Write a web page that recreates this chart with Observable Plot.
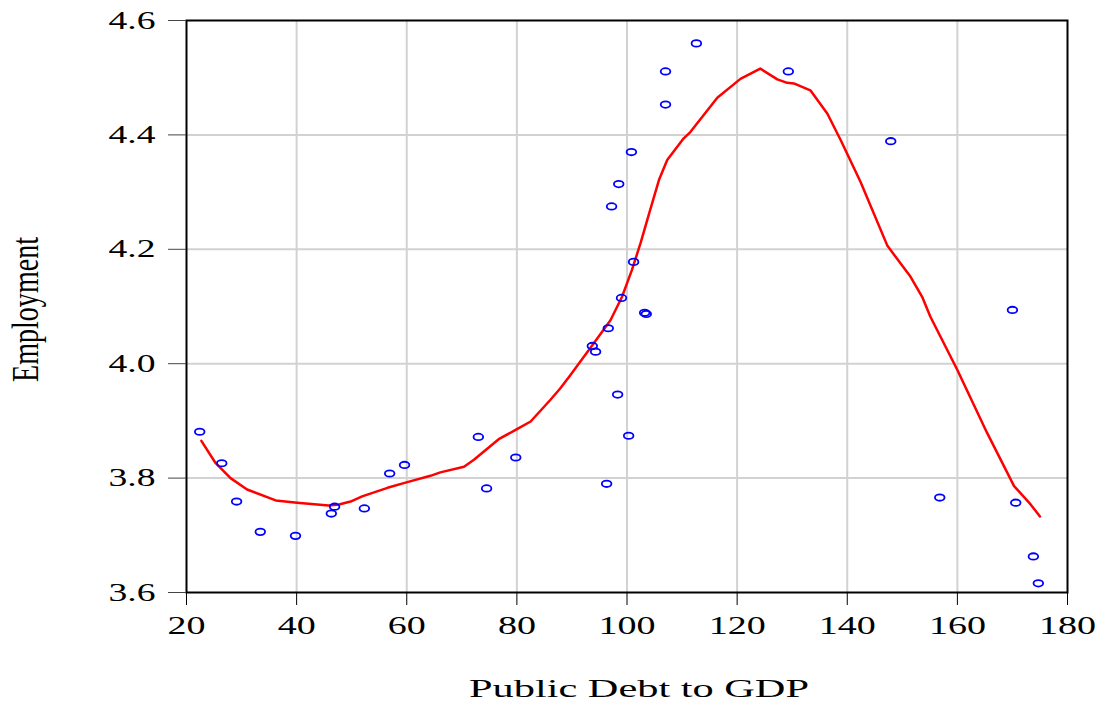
<!DOCTYPE html>
<html>
<head>
<meta charset="utf-8">
<script src="https://cdn.jsdelivr.net/npm/d3@7"></script>
<script src="https://cdn.jsdelivr.net/npm/@observablehq/plot@0.6"></script>
<style>
  html, body { margin: 0; padding: 0; background: #fff; }
</style>
</head>
<body>
<div id="chart"></div>
<script>
// Scatter: public debt to GDP (x) vs employment (y)
const debt = [22.4, 26.4, 29.1, 33.4, 39.8, 46.3, 46.9, 52.3, 56.9, 59.6,
  73.0, 74.5, 79.8, 96.3, 98.3, 100.3, 93.7, 94.3, 96.6, 99.0,
  101.2, 103.2, 103.5, 97.2, 98.5, 100.8, 107.0, 107.0, 112.6, 129.3,
  147.9, 156.8, 170.0, 170.6, 173.8, 174.7];
const employment = [3.881, 3.826, 3.759, 3.706, 3.699, 3.738, 3.750, 3.747, 3.808, 3.823,
  3.872, 3.782, 3.836, 3.790, 3.946, 3.874, 4.031, 4.021, 4.062, 4.115,
  4.178, 4.089, 4.087, 4.275, 4.314, 4.370, 4.453, 4.511, 4.560, 4.511,
  4.389, 3.766, 4.094, 3.757, 3.663, 3.616];

// Fitted (smoothed) curve
const fitX = [22.7, 25.3, 28.0, 31.0, 36.2, 40.1, 45.8, 47.7, 49.8, 51.9,
  56.5, 60.1, 64.3, 66.1, 70.4, 72.2, 76.7, 80.1, 82.5, 86.1,
  87.9, 89.7, 94.0, 97.0, 99.1, 100.9, 102.5, 104.0, 105.8, 107.3, 110.3,
  111.5, 116.4, 120.6, 124.2, 127.3, 129.1, 130.3, 133.3, 136.4, 138.8,
  142.4, 147.3, 151.5, 153.6, 155.1, 160.0, 165.4, 170.3, 173.3, 175.0];
const fitY = [3.865, 3.826, 3.800, 3.780, 3.761, 3.757, 3.752, 3.754, 3.759, 3.768,
  3.783, 3.793, 3.804, 3.810, 3.820, 3.832, 3.868, 3.886, 3.899, 3.937,
  3.957, 3.980, 4.036, 4.076, 4.117, 4.164, 4.212, 4.262, 4.321, 4.356, 4.394,
  4.405, 4.465, 4.498, 4.516, 4.497, 4.491, 4.490, 4.478, 4.437, 4.391,
  4.318, 4.206, 4.152, 4.117, 4.082, 3.989, 3.879, 3.786, 3.754, 3.733];

const xTicks = [20, 40, 60, 80, 100, 120, 140, 160, 180];
const yTicks = [3.6, 3.8, 4.0, 4.2, 4.4, 4.6];
const xLabel = "Public Debt to GDP";
const yLabel = "Employment";

const points = debt.map((d, i) => ({x: d, y: employment[i]}));
const fit = fitX.map((d, i) => ({x: d, y: fitY[i]}));

// Ellipse-shaped symbol (the original markers are wider than tall)
const ellipse = {
  draw(ctx, size) {
    const r = Math.sqrt(size / Math.PI);
    const rx = 1.5 * r, ry = r, k = 0.5523;
    ctx.moveTo(rx, 0);
    ctx.bezierCurveTo(rx, k * ry, k * rx, ry, 0, ry);
    ctx.bezierCurveTo(-k * rx, ry, -rx, k * ry, -rx, 0);
    ctx.bezierCurveTo(-rx, -k * ry, -k * rx, -ry, 0, -ry);
    ctx.bezierCurveTo(k * rx, -ry, rx, -k * ry, rx, 0);
    ctx.closePath();
  }
};

const chart = Plot.plot({
  width: 1099,
  height: 702,
  marginLeft: 186,
  marginRight: 32,
  marginTop: 20,
  marginBottom: 110,
  style: {fontFamily: "'Liberation Serif', 'Times New Roman', serif", background: "#fff", color: "#000"},
  x: {domain: [20, 180]},
  y: {domain: [3.6, 4.6]},
  marks: [
    Plot.gridX(xTicks.slice(1, -1), {stroke: "#d2d2d2", strokeOpacity: 1, strokeWidth: 2}),
    Plot.gridY(yTicks.slice(1, -1), {stroke: "#d2d2d2", strokeOpacity: 1, strokeWidth: 2}),
    Plot.line(fit, {x: "x", y: "y", stroke: "#ff0000", strokeWidth: 2.5}),
    Plot.dot(points, {x: "x", y: "y", symbol: ellipse, r: 3.2, stroke: "#0000ff", strokeWidth: 1.8, fill: "none"}),
    Plot.frame({stroke: "#000", strokeWidth: 2}),
    Plot.axisY(yTicks, {tickSize: 18, tickPadding: 13, fontSize: 25, tickFormat: d3.format(".1f"), label: null, stroke: "#444"}),
    Plot.axisX(xTicks, {tickSize: 13, tickPadding: 10, fontSize: 26, label: null, stroke: "#000"}),
    Plot.text([yLabel], {frameAnchor: "left", text: d => d, rotate: -90, dx: -161, dy: 3, fontSize: 38, lineAnchor: "middle", textAnchor: "middle", fill: "#000"}),
    Plot.text([xLabel], {frameAnchor: "bottom", text: d => d, dx: 12, dy: 96, fontSize: 26, lineAnchor: "middle", textAnchor: "middle", fill: "#000"})
  ]
});

document.getElementById("chart").appendChild(chart);

// Stretch the text horizontally like the original picture
const svg = d3.select(chart);
svg.selectAll('g[aria-label="y-axis tick label"] text')
  .attr("textLength", 47).attr("lengthAdjust", "spacingAndGlyphs");
svg.selectAll('g[aria-label="x-axis tick label"] text')
  .each(function() {
    const n = this.textContent.length;
    d3.select(this).attr("textLength", n * 19).attr("lengthAdjust", "spacingAndGlyphs");
  });
svg.selectAll("text").each(function() {
  if (this.textContent === xLabel) d3.select(this).attr("textLength", 340).attr("lengthAdjust", "spacingAndGlyphs");
  if (this.textContent === yLabel) d3.select(this).attr("textLength", 145).attr("lengthAdjust", "spacingAndGlyphs");
});
</script>
</body>
</html>
